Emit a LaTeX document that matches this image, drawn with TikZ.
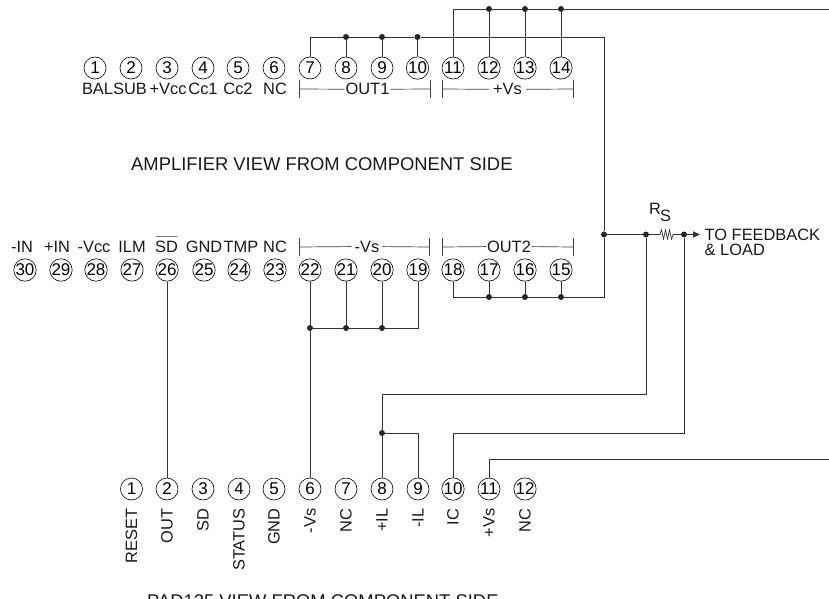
\documentclass[tikz,border=0pt]{standalone}
\usepackage{fontspec}
\setmainfont{Liberation Sans}
\usetikzlibrary{arrows.meta}
\definecolor{wirec}{gray}{0.2}
\tikzset{
 x=1pt,y=-1pt,
 wire/.style={draw=wirec,line width=0.9pt},
 pin/.style={circle,draw=black,line width=0.6pt,minimum size=22pt,inner sep=0pt,font=\fontsize{17}{17}\selectfont},
 lab/.style={inner sep=0pt,font=\fontsize{16.4}{16.4}\selectfont,text=black!90},
 captxt/.style={inner sep=0pt,font=\fontsize{18.4}{18.4}\selectfont,text=black!90},
 vlab/.style={lab,rotate=90,anchor=east},
 dotn/.style={circle,fill=black!85,inner sep=0pt,minimum size=6pt},
 brk/.style={draw=black!75,line width=0.7pt},
}
\begin{document}
\begin{tikzpicture}
\useasboundingbox (0,0) rectangle (829,599);
\clip (0,0) rectangle (829,599);
% top row
\foreach \n/\x in {1/95,2/131,3/167,4/203,5/238,6/274,7/310,8/346,9/382,10/417.5,11/453,12/489,13/525,14/561}
  \node[pin] (t\n) at (\x,68) {\n};
% middle row
\foreach \n/\x in {30/25,29/61,28/96,27/132,26/167,25/204,24/239,23/275,22/310,21/346,20/382,19/418,18/453,17/489,16/525,15/561}
  \node[pin] (m\n) at (\x,270) {\n};
% bottom row
\foreach \n/\x in {1/131.5,2/167,3/203,4/239,5/274,6/310,7/346,8/382,9/418,10/453,11/489,12/525}
  \node[pin] (b\n) at (\x,489) {\n};
% top labels
\foreach \t/\x in {BAL/97.5,SUB/130,+Vcc/168,Cc1/203,Cc2/238,NC/275}
  \node[lab,anchor=base] at (\x,95) {\t};
\foreach \t/\x in {-IN/22,+IN/57,-Vcc/94,ILM/132,GND/204,TMP/241,NC/275}
  \node[lab,anchor=base] at (\x,252) {\t};
\node[lab,anchor=base] at (166.5,252) {SD};
\draw[draw=black!55,line width=0.8pt] (156,236.5) -- (177,236.5);
% brackets
\coordinate (o1a) at (299,89); \coordinate (o1b) at (430,89);
\coordinate (vpa) at (442.5,89); \coordinate (vpb) at (573,89);
\coordinate (vma) at (299,247); \coordinate (vmb) at (429,247);
\coordinate (o2a) at (442.5,247); \coordinate (o2b) at (573,247);
\foreach \a in {o1a,o1b,vpa,vpb,vma,vmb,o2a,o2b}
  \draw[brk] ([yshift=9pt]\a) -- ([yshift=-9pt]\a);
\node[lab,anchor=base,fill=white,inner xsep=1pt] (o1t) at (367.5,95) {OUT1};
\node[lab,anchor=base,fill=white,inner xsep=4pt] (vpt) at (507.5,95) {+Vs};
\node[lab,anchor=base,fill=white,inner xsep=3pt] (vmt) at (367,252) {-Vs};
\node[lab,anchor=base,fill=white,inner xsep=1pt] (o2t) at (509,252) {OUT2};
\draw[brk] (o1a) -- (o1t); \draw[brk] (o1t) -- (o1b);
\draw[brk] (vpa) -- (vpt); \draw[brk] (vpt) -- (vpb);
\draw[brk] (vma) -- (vmt); \draw[brk] (vmt) -- (vmb);
\draw[brk] (o2a) -- (o2t); \draw[brk] (o2t) -- (o2b);
% captions
\node[captxt,anchor=base west] at (131,170) {AMPLIFIER VIEW FROM COMPONENT SIDE};
\node[captxt,anchor=base west] at (147,607.5) {PAD125 VIEW FROM COMPONENT SIDE};
% bottom labels
\foreach \t/\n in {RESET/1,OUT/2,SD/3,STATUS/4,GND/5,-Vs/6,NC/7,+IL/8,-IL/9,IC/10,+Vs/11,NC/12}
  \node[vlab] at ([xshift=0pt,yshift=-8pt]b\n.south) {\t};
% junction nodes
\node[dotn] (j8) at (346,37) {};
\node[dotn] (j9) at (382,37) {};
\node[dotn] (j10) at (417.5,37) {};
\coordinate (c) at (604,37);
\node[dotn] (j12) at (489,9) {};
\node[dotn] (j13) at (525,9) {};
\node[dotn] (j14) at (561,9) {};
\node[dotn] (j17) at (489,297) {};
\node[dotn] (j16) at (525,297) {};
\node[dotn] (j15) at (561,297) {};
\coordinate (c2) at (604,297);
\node[dotn] (jm22) at (310,328) {};
\node[dotn] (jm21) at (346,328) {};
\node[dotn] (jm20) at (382,328) {};
\node[dotn] (ja) at (604,234.5) {};
\node[dotn] (jb) at (646,234.5) {};
\node[dotn] (jc) at (684,234.5) {};
\node[dotn] (jd) at (382,433) {};
\coordinate (rt) at (829,9);
\coordinate (rb) at (829,459);
% wires
\draw[wire] (t7) |- (j8) -- (j9) -- (j10) -- (c) -- (ja);
\draw[wire] (t8) -- (j8); \draw[wire] (t9) -- (j9); \draw[wire] (t10) -- (j10);
\draw[wire] (t11) |- (j12) -- (j13) -- (j14) -- (rt);
\draw[wire] (t12) -- (j12); \draw[wire] (t13) -- (j13); \draw[wire] (t14) -- (j14);
\draw[wire] (m18) |- (j17) -- (j16) -- (j15) -- (c2) -- (ja);
\draw[wire] (m17) -- (j17); \draw[wire] (m16) -- (j16); \draw[wire] (m15) -- (j15);
\draw[wire] (m19) |- (jm20) -- (jm21) -- (jm22);
\draw[wire] (m20) -- (jm20); \draw[wire] (m21) -- (jm21);
\draw[wire] (m22) -- (b6);
\draw[wire] (m26) -- (b2);
\draw[wire] (ja) -- (jb) -- (658,234.5);
\draw[wire,line width=0.7pt,line join=round] (658,234.5) -- (660,234.5) -- (661.5,229.5) -- (663.5,239.5) -- (665.5,229.5) -- (667.5,239.5) -- (669.5,229.5) -- (671.5,239.5) -- (673,234.5) -- (jc);
\coordinate (arr) at (700,234.5);
\draw[wire,-{Triangle[length=7pt,width=6pt]}] (jc) -- (arr);
\node[lab,anchor=base west] at (704.5,240) {TO FEEDBACK};
\node[lab,anchor=base west] at (704.5,255) {\& LOAD};
\node[lab,anchor=base west] at (649,214) {R};
\node[lab,anchor=base west] at (660,221) {S};
\draw[wire] (jb) |- (382,394) -- (jd) -- (b8);
\draw[wire] (jd) -| (b9);
\draw[wire] (b10) |- (684,433) -- (jc);
\draw[wire] (b11) |- (rb);
\end{tikzpicture}
\end{document}
